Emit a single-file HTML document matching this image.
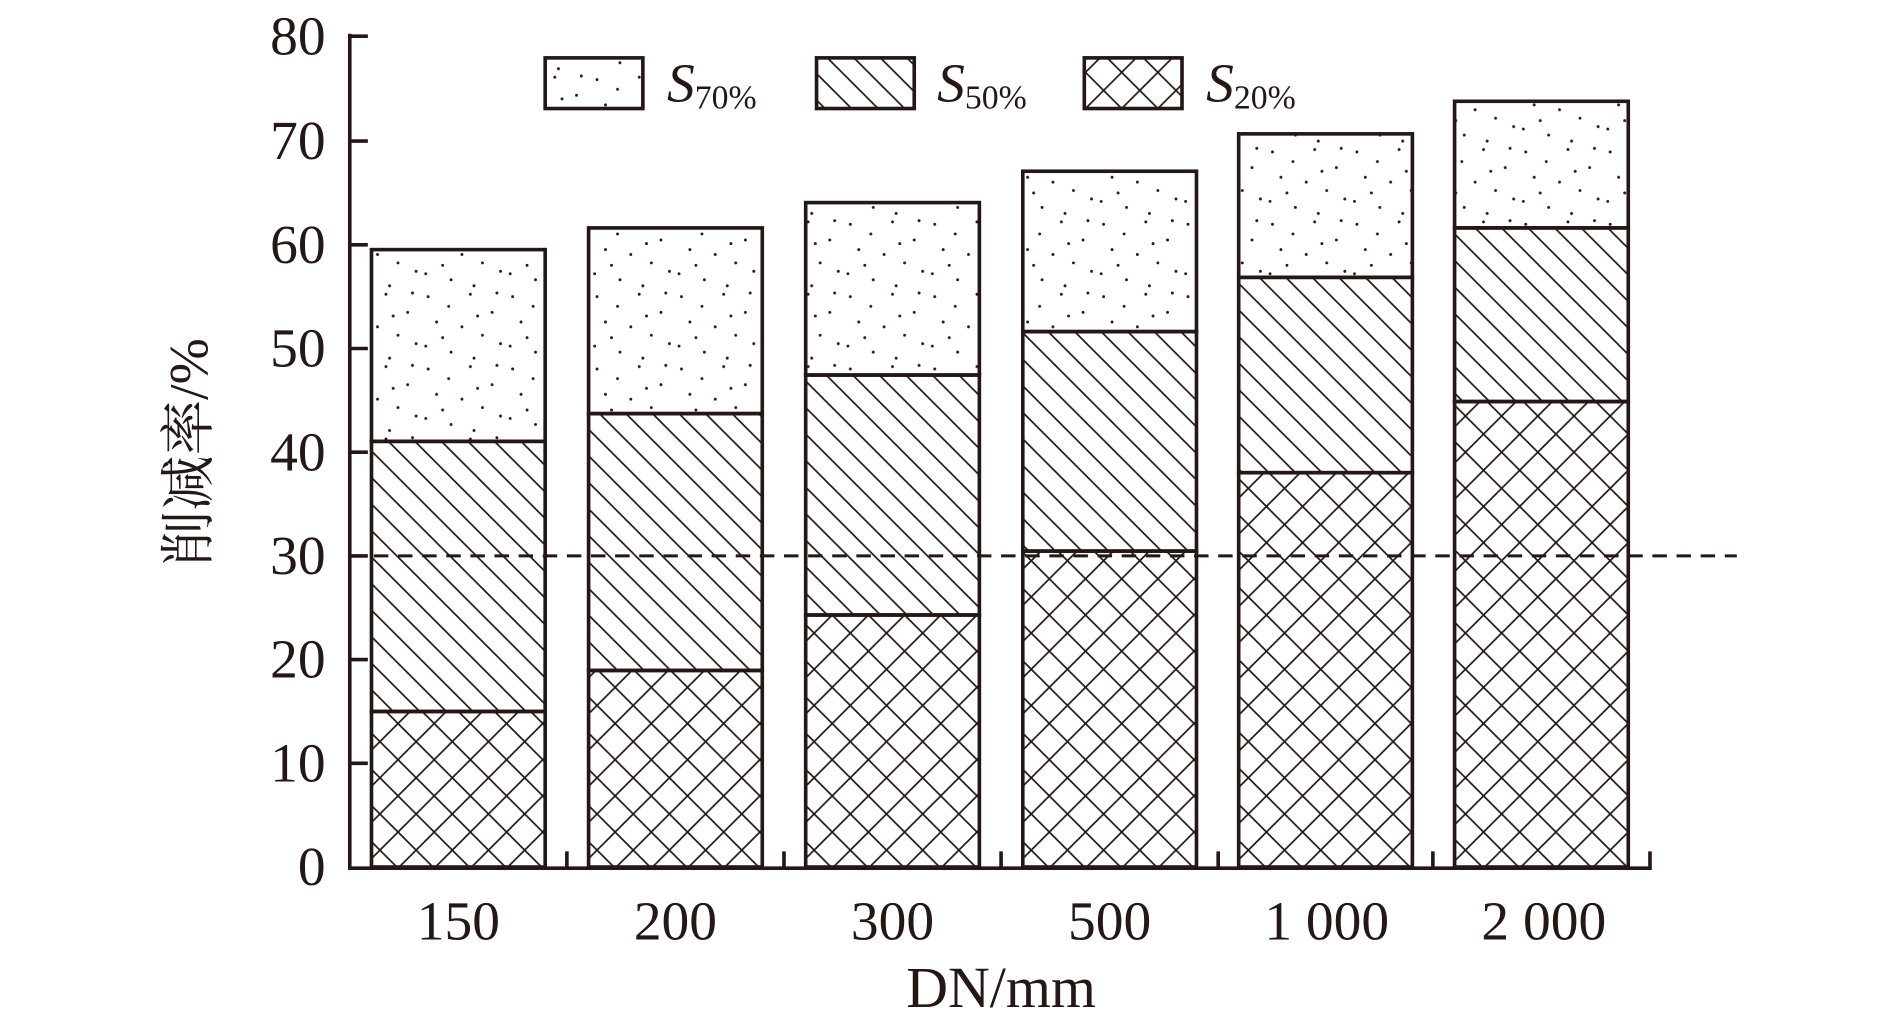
<!DOCTYPE html>
<html><head><meta charset="utf-8"><style>html,body{margin:0;padding:0;background:#fff}svg{display:block}</style></head>
<body>
<svg width="1890" height="1025" viewBox="0 0 1567 850" preserveAspectRatio="none" xmlns="http://www.w3.org/2000/svg">
<defs>
<pattern id="hatch" patternUnits="userSpaceOnUse" width="22" height="22">
<path d="M-5,-5 L27,27 M-5,17 L5,27 M17,-5 L27,5" stroke="#231815" stroke-width="1.4"/>
</pattern>
<pattern id="cross" patternUnits="userSpaceOnUse" width="30" height="30">
<path d="M-5,-5 L35,35 M-5,25 L5,35 M25,-5 L35,5 M35,-5 L-5,35 M5,-5 L-5,5 M35,25 L25,35" stroke="#231815" stroke-width="1.4"/>
</pattern>
<pattern id="dots" patternUnits="userSpaceOnUse" width="70" height="60">
<g fill="#231815">
<circle cx="5" cy="6" r="1.2"/><circle cx="22" cy="14" r="1.2"/><circle cx="40" cy="4" r="1.2"/><circle cx="58" cy="19" r="1.2"/>
<circle cx="12" cy="27" r="1.2"/><circle cx="33" cy="31" r="1.2"/><circle cx="50" cy="38" r="1.2"/><circle cx="65" cy="45" r="1.2"/>
<circle cx="3" cy="47" r="1.2"/><circle cx="24" cy="52" r="1.2"/><circle cx="43" cy="57" r="1.2"/><circle cx="62" cy="3" r="1.2"/>
<circle cx="17" cy="40" r="1.2"/><circle cx="46" cy="22" r="1.2"/>
</g>
</pattern>
</defs>
<g stroke="#231815" stroke-width="3">
<rect x="308" y="590" width="144" height="129" fill="url(#cross)"/>
<rect x="308" y="366" width="144" height="224" fill="url(#hatch)"/>
<rect x="308" y="207" width="144" height="159" fill="url(#dots)"/>
<rect x="488" y="556" width="144" height="163" fill="url(#cross)"/>
<rect x="488" y="343" width="144" height="213" fill="url(#hatch)"/>
<rect x="488" y="189" width="144" height="154" fill="url(#dots)"/>
<rect x="668" y="510" width="144" height="209" fill="url(#cross)"/>
<rect x="668" y="311" width="144" height="199" fill="url(#hatch)"/>
<rect x="668" y="168" width="144" height="143" fill="url(#dots)"/>
<rect x="848" y="457" width="144" height="262" fill="url(#cross)"/>
<rect x="848" y="275" width="144" height="182" fill="url(#hatch)"/>
<rect x="848" y="142" width="144" height="133" fill="url(#dots)"/>
<rect x="1027" y="392" width="144" height="327" fill="url(#cross)"/>
<rect x="1027" y="230" width="144" height="162" fill="url(#hatch)"/>
<rect x="1027" y="111" width="144" height="119" fill="url(#dots)"/>
<rect x="1206" y="333" width="144" height="386" fill="url(#cross)"/>
<rect x="1206" y="189" width="144" height="144" fill="url(#hatch)"/>
<rect x="1206" y="84" width="144" height="105" fill="url(#dots)"/>
<rect x="452" y="48" width="81" height="42" fill="url(#dots)"/>
<rect x="677" y="48" width="81" height="42" fill="url(#hatch)"/>
<rect x="899" y="48" width="81" height="42" fill="url(#cross)"/>
</g>
<line x1="290" y1="461" x2="1440" y2="461" stroke="#231815" stroke-width="2.5" stroke-dasharray="12,8"/>
<g stroke="#231815" stroke-width="3" fill="none">
<path d="M290,28 V720 H1368 V706"/>
<path d="M290,30 h15 M290,117 h15 M290,203 h15 M290,289 h15 M290,375 h15 M290,461 h15 M290,547 h15 M290,633 h15"/>
<path d="M470,720 v-14 M650,720 v-14 M830,720 v-14 M1010,720 v-14 M1188,720 v-14"/>
</g>
<g font-family="Liberation Serif, serif" font-size="46" fill="#231815">
<g text-anchor="end">
<text x="270" y="45">80</text><text x="270" y="132">70</text><text x="270" y="218">60</text><text x="270" y="304">50</text>
<text x="270" y="390">40</text><text x="270" y="476">30</text><text x="270" y="562">20</text><text x="270" y="648">10</text><text x="270" y="734">0</text>
</g>
<g text-anchor="middle">
<text x="380" y="779">150</text><text x="560" y="779">200</text><text x="740" y="779">300</text><text x="920" y="779">500</text>
<text x="1100" y="779">1 000</text><text x="1280" y="779">2 000</text>
<text x="830" y="835" font-size="48">DN/mm</text>
</g>
<text x="553" y="84" font-style="italic">S<tspan font-size="28" font-style="normal" dy="6">70%</tspan></text>
<text x="777" y="84" font-style="italic">S<tspan font-size="28" font-style="normal" dy="6">50%</tspan></text>
<text x="1000" y="84" font-style="italic">S<tspan font-size="28" font-style="normal" dy="6">20%</tspan></text>
</g>
<text transform="translate(172,375) rotate(-90)" text-anchor="middle" font-family="Liberation Serif, 'Noto Serif CJK SC', serif" font-size="46" fill="#231815">削减率/%</text>
</svg>
</body></html>
